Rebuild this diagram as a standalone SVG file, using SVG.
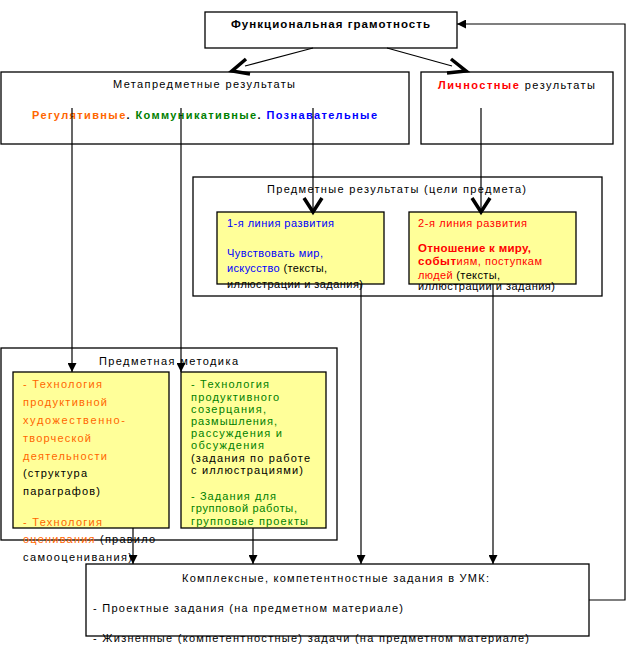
<svg xmlns="http://www.w3.org/2000/svg" width="638" height="661" viewBox="0 0 638 661">
<defs>
<style>
text{font-family:"Liberation Sans",Arial,sans-serif;font-size:11px;fill:#000}
.b{font-weight:bold}
.box{fill:#fff;stroke:#000;stroke-width:1.3}
.frame{fill:none;stroke:#000;stroke-width:1.3}
.yel{fill:#ffff99;stroke:#000;stroke-width:1.3}
.ln{fill:none;stroke:#000;stroke-width:1.2}
.v{fill:none;stroke:#000;stroke-width:3.5;stroke-linejoin:miter}
.o{fill:#ff6600}.g{fill:#008000}.bl{fill:#0000ff}.r{fill:#ff0000}
</style>
<marker id="ah" markerUnits="userSpaceOnUse" markerWidth="9" markerHeight="9" refX="9" refY="4.5" orient="auto">
<path d="M0,0 L9,4.5 L0,9 z" fill="#000"/>
</marker>
</defs>
<rect width="638" height="661" fill="#fff"/>

<g id="func">
<rect class="box" x="205" y="12" width="252" height="36"/>
<text class="b" x="231" y="28" textLength="199" style="font-size:11.5px">Функциональная грамотность</text>
</g>

<g id="meta">
<rect class="box" x="1" y="72" width="408" height="72"/>
<text x="113" y="88" textLength="182">Метапредметные результаты</text>
<text class="b" x="32" y="119" textLength="345"><tspan class="o">Регулятивные</tspan>. <tspan class="g">Коммуникативные</tspan>. <tspan class="bl">Познавательные</tspan></text>
</g>

<g id="lichn">
<rect class="box" x="421" y="72" width="192" height="72"/>
<text x="438" y="89" textLength="157"><tspan class="r b">Личностные</tspan> результаты</text>
</g>

<g id="predm">
<rect class="box" x="193" y="177" width="409" height="119"/>
<text x="267" y="193" textLength="259">Предметные результаты (цели предмета)</text>
</g>

<g id="line1">
<rect class="yel" x="217" y="212" width="167" height="72"/>
<text class="bl" x="227" y="227" textLength="107">1-я линия развития</text>
<text class="bl" x="227" y="257" textLength="96">Чувствовать мир,</text>
<text x="227" y="272" textLength="100"><tspan class="bl">искусство</tspan> (тексты,</text>
<text x="227" y="288" textLength="136">иллюстрации и задания)</text>
</g>

<g id="line2">
<rect class="yel" x="409" y="212" width="167" height="72"/>
<text class="r" x="418" y="227" textLength="109">2-я линия развития</text>
<text class="r b" x="418" y="252" textLength="113" style="font-size:11.5px">Отношение к миру,</text>
<text class="r" x="418" y="265" textLength="124"><tspan class="b" style="font-size:11.5px">событ</tspan>иям, поступкам</text>
<text x="418" y="279" textLength="82"><tspan class="r">людей</tspan> (тексты,</text>
<text x="418" y="290" textLength="137">иллюстрации и задания)</text>
</g>

<g id="metod">
<rect class="frame" x="1" y="348" width="336" height="192"/>
<text x="99" y="365" textLength="139">Предметная методика</text>
</g>

<g id="tech1">
<rect class="yel" x="13" y="372" width="156" height="156"/>
<text class="o" x="23" y="388" textLength="79">- Технология</text>
<text class="o" x="23" y="406" textLength="84">продуктивной</text>
<text class="o" x="23" y="424" textLength="102">художественно-</text>
<text class="o" x="23" y="442" textLength="68">творческой</text>
<text class="o" x="23" y="460" textLength="84">деятельности</text>
<text x="23" y="477" textLength="64">(структура</text>
<text x="23" y="495" textLength="77">параграфов)</text>
<text class="o" x="23" y="526" textLength="79">- Технология</text>
<text x="23" y="543" textLength="132"><tspan class="o">оценивания</tspan> (правило</text>
<text x="23" y="561" textLength="109">самооценивания)</text>
</g>

<g id="tech2">
<rect class="yel" x="181" y="372" width="145" height="156"/>
<text class="g" x="191" y="388" textLength="78">- Технология</text>
<text class="g" x="191" y="401" textLength="88">продуктивного</text>
<text class="g" x="191" y="413" textLength="75">созерцания,</text>
<text class="g" x="191" y="425" textLength="86">размышления,</text>
<text class="g" x="191" y="437" textLength="91">рассуждения и</text>
<text class="g" x="191" y="449" textLength="73">обсуждения</text>
<text x="191" y="462" textLength="119">(задания по работе</text>
<text x="191" y="474" textLength="112">с иллюстрациями)</text>
<text class="g" x="191" y="500" textLength="85">- Задания для</text>
<text class="g" x="191" y="512" textLength="106">групповой работы,</text>
<text class="g" x="191" y="525" textLength="117">групповые проекты</text>
</g>

<g id="umk">
<rect class="box" x="86" y="564" width="503" height="72"/>
<text x="182" y="582" textLength="307">Комплексные, компетентностные задания в УМК:</text>
<text x="93" y="612" textLength="310">- Проектные задания (на предметном материале)</text>
<text x="93" y="642" textLength="436">- Жизненные (компетентностные) задачи (на предметном материале)</text>
</g>

<g id="connectors">
<line class="ln" x1="313" y1="48" x2="245" y2="66"/>
<polyline class="v" points="246,59 232,71 250,74"/>
<line class="ln" x1="387" y1="48" x2="452" y2="66"/>
<polyline class="v" points="451,59 466,71 447,73"/>
<line class="ln" x1="72" y1="108" x2="72" y2="372" marker-end="url(#ah)"/>
<line class="ln" x1="181" y1="108" x2="181" y2="372" marker-end="url(#ah)"/>
<line class="ln" x1="313" y1="108" x2="313" y2="210"/>
<polyline class="v" points="304,198 313,212 322,198"/>
<line class="ln" x1="481" y1="108" x2="481" y2="210"/>
<polyline class="v" points="472,198 481,212 490,198"/>
<line class="ln" x1="361" y1="284" x2="361" y2="564" marker-end="url(#ah)"/>
<line class="ln" x1="493" y1="284" x2="493" y2="564" marker-end="url(#ah)"/>
<line class="ln" x1="133" y1="528" x2="133" y2="564" marker-end="url(#ah)"/>
<line class="ln" x1="253" y1="528" x2="253" y2="564" marker-end="url(#ah)"/>
<polyline class="ln" points="589,600 625,600 625,24 457,24" marker-end="url(#ah)"/>
</g>
</svg>
